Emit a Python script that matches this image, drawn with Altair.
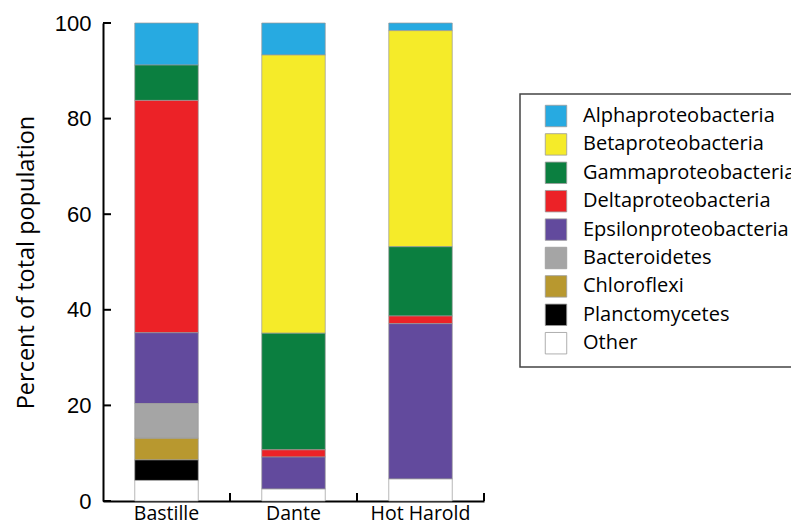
import altair as alt
import pandas as pd

# ---- data ----
sites = ["Bastille", "Dante", "Hot Harold"]
groups = [
    "Alphaproteobacteria",
    "Betaproteobacteria",
    "Gammaproteobacteria",
    "Deltaproteobacteria",
    "Epsilonproteobacteria",
    "Bacteroidetes",
    "Chloroflexi",
    "Planctomycetes",
    "Other",
]
colors = ["#27AAE1", "#F5EB29", "#0B7F40", "#EC2227", "#624A9D",
          "#A5A5A5", "#B8982F", "#000000", "#FFFFFF"]
bastille = [8.8, 0.0, 7.4, 48.6, 14.8, 7.3, 4.5, 4.3, 4.3]
dante = [6.7, 58.2, 24.4, 1.5, 6.7, 0.0, 0.0, 0.0, 2.5]
hot_harold = [1.6, 45.2, 14.5, 1.6, 32.5, 0.0, 0.0, 0.0, 4.6]
y_ticks = [0, 20, 40, 60, 80, 100]

rows = []
for site, vals in zip(sites, [bastille, dante, hot_harold]):
    for i, (g, v) in enumerate(zip(groups, vals)):
        if v > 0:
            rows.append({"site": site, "group": g, "pct": v,
                         "stack": len(groups) - 1 - i})
df = pd.DataFrame(rows)

W, H = 381, 478
PAD_IN, PAD_OUT = 0.5, 0.25
STEP = W / (len(sites) - PAD_IN + 2 * PAD_OUT)
GAP_HALF = PAD_IN * STEP / 2

x_scale = alt.Scale(domain=sites, paddingInner=PAD_IN, paddingOuter=PAD_OUT)
y_scale = alt.Scale(domain=[0, 100], nice=False)

x_axis = alt.Axis(title=None, labelAngle=0, labelFont="Open Sans",
                  labelFontSize=19.5, labelColor="black",
                  labelPadding=3, ticks=False, tickSize=0,
                  domainColor="black", domainWidth=2, grid=False)
y_axis = alt.Axis(title="Percent of total population",
                  values=y_ticks, labelFont="Liberation Sans",
                  labelFontSize=22, labelColor="black",
                  labelPadding=12, ticks=False, tickSize=0,
                  domainColor="black", domainWidth=2, grid=False,
                  titleFont="Open Sans", titleFontSize=23.5,
                  titleFontWeight="normal", titleColor="black",
                  titlePadding=16)

bars = alt.Chart(df).mark_bar(stroke="#9a9a9a", strokeWidth=0.7).encode(
    x=alt.X("site:N", scale=x_scale, sort=sites, axis=x_axis),
    y=alt.Y("pct:Q", stack="zero", scale=y_scale, axis=y_axis),
    color=alt.Color("group:N", scale=alt.Scale(domain=groups, range=colors),
                    legend=alt.Legend(title=None, orient="none",
                                      legendX=417, legendY=71,
                                      symbolType="square", symbolSize=460,
                                      symbolStrokeColor="#9a9a9a",
                                      symbolStrokeWidth=0.8,
                                      labelFont="Open Sans", labelFontSize=20,
                                      labelColor="black", labelLimit=400,
                                      padding=10.5, symbolOffset=14,
                                      labelOffset=15.5, rowPadding=3.4,
                                      strokeColor="#444444",
                                      fillColor="white")),
    order=alt.Order("stack:Q", sort="ascending"),
)

x_ticks = alt.Chart(pd.DataFrame({"site": sites})).mark_rule(
    color="black", strokeWidth=2, xOffset=GAP_HALF).encode(
    x=alt.X("site:N", bandPosition=1, scale=x_scale, sort=sites, axis=x_axis),
    y=alt.value(H),
    y2=alt.value(H - 8),
)

y_tick_rules = alt.Chart(pd.DataFrame({"tick": y_ticks})).mark_rule(
    color="black", strokeWidth=2).encode(
    y=alt.Y("tick:Q", scale=y_scale, axis=y_axis),
    x=alt.value(0),
    x2=alt.value(8),
)

chart = alt.layer(bars, x_ticks, y_tick_rules).properties(
    width=W, height=H,
    autosize=alt.AutoSizeParams(type="none"),
    padding={"left": 95, "top": 15, "right": 307, "bottom": 23},
    background="white",
).configure_view(stroke=None).configure_legend(strokeWidth=1.5)

chart.save("out.html", embed_options={"renderer": "svg", "actions": False})
